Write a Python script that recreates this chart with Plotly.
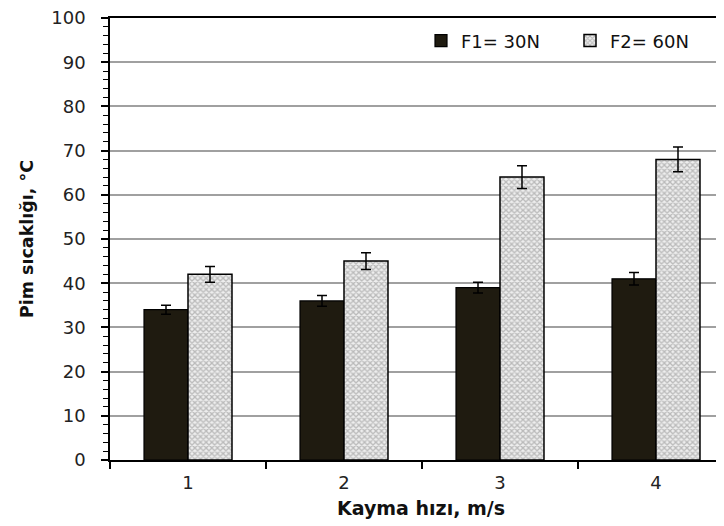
import plotly.graph_objects as go

categories = [1, 2, 3, 4]
tick_labels = ["1", "2", "3", "4"]
f1_values = [34, 36, 39, 41]
f1_errors = [1.0, 1.2, 1.2, 1.4]
f2_values = [42, 45, 64, 68]
f2_errors = [1.8, 1.9, 2.6, 2.8]
series_names = ["F1= 30N", "F2= 60N"]

W, H = 724, 526
L, R, T, B = 102, 0, 10, 74
px_per_cat = 156.0
plot_w = W - L - R

fig = go.Figure()
fig.add_trace(go.Bar(
    x=categories, y=f1_values, name=series_names[0],
    marker=dict(color="#1f1b10", line=dict(color="#000", width=1.2)),
    error_y=dict(type="data", array=f1_errors, color="#000", thickness=1.5, width=5),
))
fig.add_trace(go.Bar(
    x=categories, y=f2_values, name=series_names[1],
    marker=dict(color="white", line=dict(color="#000", width=1.5),
                pattern=dict(shape="x", fgcolor="#858585", bgcolor="#eeeeee", size=4, solidity=0.55)),
    error_y=dict(type="data", array=f2_errors, color="#000", thickness=1.5, width=5),
))

fig.update_layout(
    width=W, height=H,
    margin=dict(l=L, r=R, t=T, b=B, autoexpand=False),
    paper_bgcolor="white", plot_bgcolor="white",
    barmode="group", bargap=0.436, bargroupgap=0,
    font=dict(family="DejaVu Sans", color="#222", size=18),
    showlegend=True,
    legend=dict(orientation="h", x=0.50, xanchor="left", y=0.99, yanchor="top",
                font=dict(size=18, family="DejaVu Sans", color="#111"),
                bgcolor="rgba(255,255,255,0)", entrywidth=104, itemwidth=30,
                traceorder="normal"),
)

fig.update_xaxes(
    range=[0.5, 0.5 + plot_w / px_per_cat],
    tickvals=categories, ticktext=tick_labels,
    ticks="outside", ticklen=6, tickcolor="rgba(0,0,0,0)",
    minor=dict(tick0=0.5, dtick=1, ticks="outside", ticklen=7, tickcolor="#000", tickwidth=1.5, showgrid=False),
    showline=True, linecolor="#000", linewidth=1.5, mirror=True,
    showgrid=False, zeroline=False, automargin=False,
    tickfont=dict(size=18, family="DejaVu Sans", color="#222"),
    title=dict(text="<b>Kayma hızı, m/s</b>", font=dict(size=19, family="DejaVu Sans", color="#111"), standoff=9),
)
fig.update_yaxes(
    range=[0, 100], dtick=10, tick0=0,
    ticks="outside", ticklen=7, tickwidth=1.5, tickcolor="#000",
    minor=dict(dtick=2, ticks="outside", ticklen=5, tickwidth=1.2, tickcolor="#000", showgrid=False),
    showline=True, linecolor="#000", linewidth=1.5,
    showgrid=True, gridcolor="#a0a0a0", gridwidth=1.5, zeroline=False, automargin=False,
    ticklabeloverflow="allow",
    tickfont=dict(size=18, family="DejaVu Sans", color="#222"),
    ticklabelstandoff=12,
    title=dict(text="<b>Pim sıcaklığı, °C</b>", font=dict(size=17.5, family="DejaVu Sans", color="#111"), standoff=13),
)

fig.write_html("out.html")
